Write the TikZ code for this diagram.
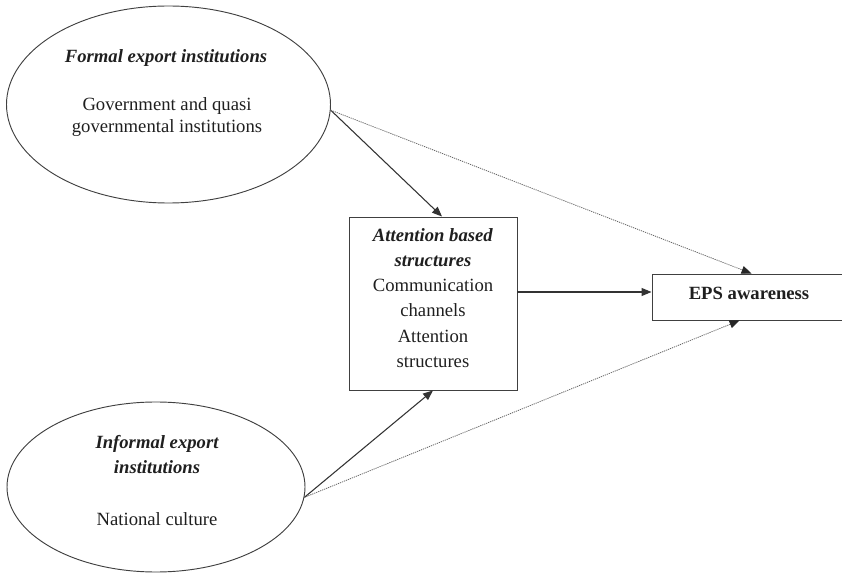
\documentclass[tikz,border=0pt]{standalone}
\usepackage{fontspec}
\setmainfont{Liberation Serif}
\usetikzlibrary{shapes.geometric,arrows.meta}
\begin{document}
\begin{tikzpicture}[x=0.75pt,y=-0.75pt,
  every node/.style={font=\fontsize{14}{16.5}\selectfont, text=black!88},
  inst/.style={ellipse, draw=black!75, line width=0.7pt, inner sep=0pt},
  boxed/.style={rectangle, draw=black!75, line width=0.7pt, inner sep=0pt},
  head/.style={font=\fontsize{14}{18.75}\selectfont\bfseries\itshape},
  link/.style={draw=black!80, line width=0.8pt, -{Triangle[length=7.5pt,width=6pt]}},
  weak/.style={draw=black!60, line width=0.6pt, dash pattern=on 0.9pt off 0.7pt,
               -{Triangle[length=7.5pt,width=6pt,color=black!85]}},
  ]
\useasboundingbox (0,0) rectangle (842,573);
\clip (0,0) rectangle (842,573);

% institutional ellipses
\node[inst, minimum width=243pt, minimum height=147.75pt] (fe) at (168.5,104.5) {};
\node[head] (fe-h) at (166,58) {Formal export institutions};
\node[align=center] (fe-b) at (167,117) {Government and quasi\\governmental institutions};

\node[inst, minimum width=223.5pt, minimum height=127.5pt] (ie) at (156,487) {};
\node[head, align=center] (ie-h) at (157,455) {Informal export\\institutions};
\node (ie-b) at (157,519) {National culture};

% attention based structures
\node[boxed, minimum width=126pt, minimum height=129.75pt] (ab) at (433,303.5) {};
\node[align=center, font=\fontsize{14}{18.9}\selectfont] (ab-t) at (433,298)
  {\textbf{\textit{Attention based}}\\\textbf{\textit{structures}}\\Communication\\channels\\Attention\\structures};

% outcome
\node[boxed, minimum width=144pt, minimum height=34.5pt] (eps) at (748,297) {};
\node[font=\fontsize{14}{16.5}\selectfont\bfseries] (eps-t) at (749,293) {EPS awareness};

% connectors
\coordinate (mid) at (585,292);
\draw[link] (fe.-2) -- ([xshift=6.75pt]ab.north);
\draw[link] (ie.-4) -- (ab.south);
\draw[weak] (fe.-2) -- ([xshift=75pt]eps.north west);
\draw[weak] (ie.-4) -- ([xshift=66pt]eps.south west);
\draw[link] (ab.east |- mid) -- (eps.west |- mid);
\end{tikzpicture}
\end{document}
